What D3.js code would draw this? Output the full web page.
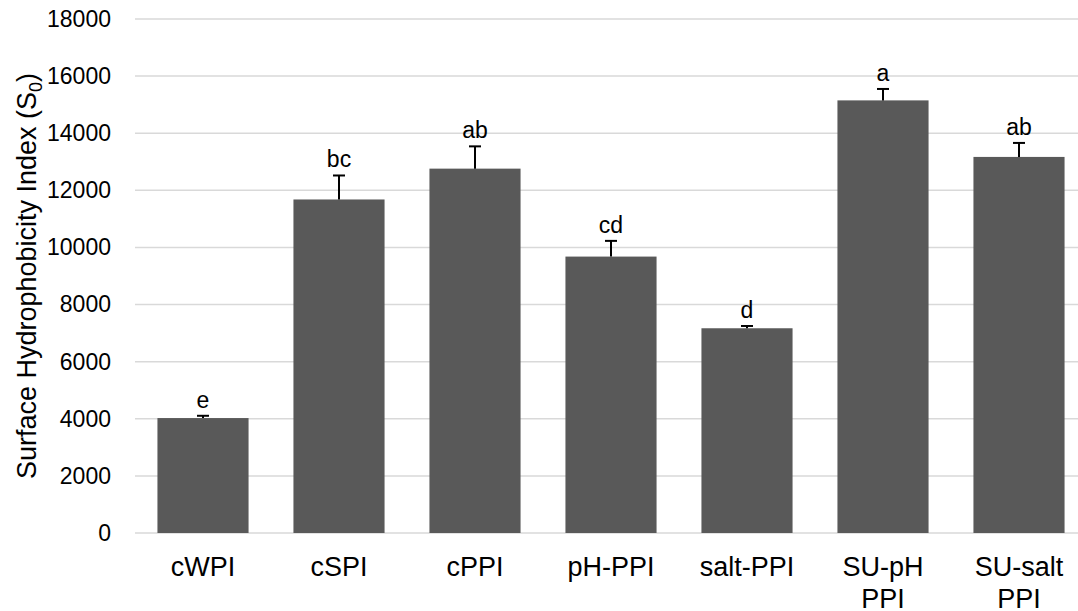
<!DOCTYPE html>
<html lang="en">
	<head>
		<meta charset="utf-8">
		<title>Surface hydrophobicity</title>
		<script type="text/javascript" src="https://cdnjs.cloudflare.com/ajax/libs/d3/7.8.5/d3.min.js"></script>
		<style type="text/css">
			body { margin: 0; background: #fff; }
			text { font-family: "Liberation Sans", Arial, sans-serif; fill: #000; }
		</style>
	</head>
	<body>
		<script type="text/javascript">
			//Data
			var categories = [["cWPI"], ["cSPI"], ["cPPI"], ["pH-PPI"], ["salt-PPI"], ["SU-pH", "PPI"], ["SU-salt", "PPI"]];
			var values = [4025, 11680, 12760, 9680, 7170, 15150, 13170];
			var errors = [80, 840, 780, 550, 80, 400, 490];
			var letters = ["e", "bc", "ab", "cd", "d", "a", "ab"];
			var yTicks = [0, 2000, 4000, 6000, 8000, 10000, 12000, 14000, 16000, 18000];

			//Width and height
			var w = 1078;
			var h = 611;
			var plotLeft = 135, plotRight = 1087, plotTop = 19, plotBottom = 533;

			var keys = categories.map(function(c) { return c.join(" "); });

			var xScale = d3.scaleBand()
							.domain(keys)
							.range([plotLeft, plotRight])
							.paddingInner(0.33)
							.paddingOuter(0.165);

			var yScale = d3.scaleLinear()
							.domain([0, 18000])
							.range([plotBottom, plotTop]);

			var svg = d3.select("body")
						.append("svg")
						.attr("width", w)
						.attr("height", h);

			//Gridlines
			svg.append("g")
				.selectAll("line")
				.data(yTicks)
				.enter()
				.append("line")
				.attr("x1", plotLeft)
				.attr("x2", w)
				.attr("y1", function(d) { return yScale(d); })
				.attr("y2", function(d) { return yScale(d); })
				.attr("stroke", "#d9d9d9")
				.attr("stroke-width", 1.5);

			//Y axis
			var yAxis = d3.axisLeft(yScale)
							.tickValues(yTicks)
							.tickSize(0)
							.tickPadding(24)
							.tickFormat(d3.format("d"));
			var gy = svg.append("g")
				.attr("transform", "translate(" + plotLeft + ",0)")
				.call(yAxis);
			gy.select(".domain").remove();
			gy.attr("font-family", null).attr("font-size", null);
			gy.selectAll("text")
				.attr("font-size", "23px")
				.attr("fill", "#000");

			//Bars
			svg.append("g")
				.selectAll("rect")
				.data(values)
				.enter()
				.append("rect")
				.attr("x", function(d, i) { return xScale(keys[i]); })
				.attr("y", function(d) { return yScale(d); })
				.attr("width", xScale.bandwidth())
				.attr("height", function(d) { return plotBottom - yScale(d); })
				.attr("fill", "#595959");

			//Error bars
			var eb = svg.append("g")
				.attr("stroke", "#000")
				.attr("stroke-width", 2);
			values.forEach(function(v, i) {
				var cx = xScale(keys[i]) + xScale.bandwidth() / 2;
				eb.append("line")
					.attr("x1", cx).attr("x2", cx)
					.attr("y1", yScale(v)).attr("y2", yScale(v + errors[i]));
				eb.append("line")
					.attr("x1", cx - 6).attr("x2", cx + 6)
					.attr("y1", yScale(v + errors[i])).attr("y2", yScale(v + errors[i]));
			});

			//Significance letters
			svg.append("g")
				.selectAll("text")
				.data(letters)
				.enter()
				.append("text")
				.text(function(d) { return d; })
				.attr("text-anchor", "middle")
				.attr("x", function(d, i) { return xScale(keys[i]) + xScale.bandwidth() / 2; })
				.attr("y", function(d, i) { return yScale(values[i] + errors[i]) - 8; })
				.attr("font-size", "23px");

			//Category labels
			var cl = svg.append("g")
				.selectAll("text")
				.data(categories)
				.enter()
				.append("text")
				.attr("text-anchor", "middle")
				.attr("y", 576)
				.attr("font-size", "27px");
			cl.each(function(d, i) {
				var t = d3.select(this);
				var cx = xScale(keys[i]) + xScale.bandwidth() / 2;
				d.forEach(function(line, j) {
					t.append("tspan")
						.attr("x", cx)
						.attr("dy", j === 0 ? 0 : 32)
						.text(line);
				});
			});

			//Y axis title
			var title = svg.append("text")
				.attr("transform", "translate(36," + ((plotTop + plotBottom) / 2) + ") rotate(-90)")
				.attr("text-anchor", "middle")
				.attr("font-size", "27px");
			title.append("tspan").text("Surface Hydrophobicity Index (S");
			title.append("tspan").attr("font-size", "18px").attr("dy", 6).text("0");
			title.append("tspan").attr("dy", -6).text(")");
		</script>
	</body>
</html>
